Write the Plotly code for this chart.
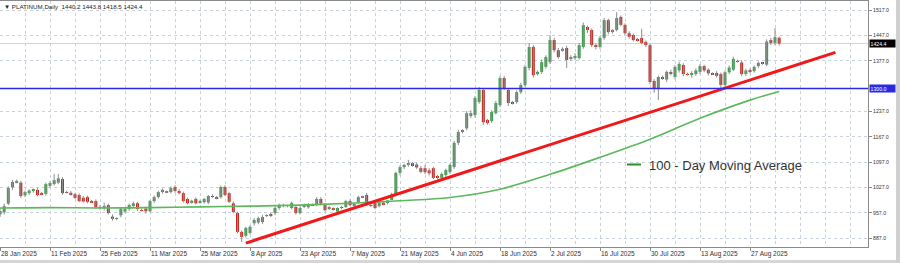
import pandas as pd
import plotly.graph_objects as go

# ---------------- data ----------------
opens = [952, 958, 982, 1027, 1041, 1040, 1005, 1011, 1018, 1020,
         1011, 1009, 1031, 1036, 1040, 1050, 1014, 1012, 1008, 1006,
         998, 1000, 988, 989, 972, 970, 978, 946, 940, 950,
         960, 967, 978, 983, 964, 968, 961, 989, 1000, 1014,
         1014, 1014, 1028, 1017, 1011, 995, 985, 995, 986, 986,
         985, 1003, 1000, 1000, 1028, 1011, 983, 956, 904, 893,
         901, 928, 930, 931, 948, 952, 956, 970, 977, 975,
         970, 973, 956, 975, 972, 980, 978, 995, 978, 968,
         968, 960, 972, 973, 989, 978, 986, 1000, 1006, 978,
         984, 975, 985, 986, 992, 1006, 1067, 1083, 1089, 1094,
         1090, 1080, 1080, 1074, 1080, 1058, 1053, 1061, 1069, 1083,
         1150, 1180, 1190, 1224, 1227, 1263, 1296, 1213, 1210, 1232,
         1254, 1329, 1296, 1262, 1263, 1290, 1310, 1357, 1415, 1340,
         1346, 1360, 1373, 1434, 1406, 1404, 1412, 1382, 1384, 1384,
         1415, 1470, 1462, 1420, 1415, 1440, 1489, 1456, 1462, 1498,
         1476, 1453, 1448, 1436, 1440, 1429, 1420, 1321, 1301, 1330,
         1325, 1344, 1332, 1350, 1365, 1340, 1338, 1340, 1346, 1362,
         1352, 1342, 1343, 1340, 1310, 1345, 1352, 1376, 1372, 1340,
         1350, 1348, 1362, 1371, 1366, 1434, 1426, 1440.2]
highs = [970, 982, 1030, 1048, 1048, 1045, 1018, 1022, 1024, 1025,
         1014, 1040, 1044, 1064, 1064, 1055, 1018, 1017, 1012, 1010,
         1003, 1004, 992, 994, 978, 985, 982, 952, 944, 970,
         970, 982, 988, 987, 968, 974, 992, 1004, 1018, 1024,
         1018, 1030, 1033, 1022, 1015, 999, 993, 999, 993, 998,
         1006, 1008, 1003, 1032, 1033, 1014, 988, 960, 908, 918,
         922, 942, 946, 950, 953, 957, 974, 982, 982, 979,
         988, 978, 974, 982, 984, 982, 1000, 1000, 982, 975,
         972, 972, 976, 993, 994, 985, 1004, 1004, 1012, 983,
         988, 988, 990, 991, 1012, 1070, 1088, 1092, 1103, 1097,
         1096, 1086, 1089, 1080, 1084, 1061, 1068, 1079, 1093, 1155,
         1186, 1188, 1238, 1240, 1280, 1304, 1300, 1216, 1240, 1266,
         1335, 1335, 1300, 1266, 1295, 1316, 1366, 1426, 1420, 1350,
         1380, 1392, 1448, 1440, 1412, 1414, 1418, 1392, 1398, 1426,
         1482, 1474, 1466, 1425, 1446, 1495, 1493, 1464, 1511, 1502,
         1480, 1458, 1452, 1440, 1465, 1433, 1424, 1326, 1336, 1336,
         1350, 1352, 1365, 1374, 1370, 1344, 1348, 1356, 1368, 1366,
         1356, 1345, 1348, 1344, 1350, 1364, 1388, 1380, 1378, 1355,
         1356, 1364, 1375, 1374, 1436, 1440, 1467, 1443.8]
lows = [945, 952, 978, 1020, 1038, 998, 1000, 1006, 1012, 1002,
        1005, 1004, 1026, 1032, 1036, 1006, 1010, 1004, 995, 986,
        985, 983, 984, 968, 965, 963, 952, 935, 936, 944,
        956, 962, 972, 962, 960, 955, 958, 984, 996, 1010,
        1011, 1010, 1012, 1007, 985, 980, 982, 980, 982, 982,
        981, 998, 994, 996, 1002, 984, 955, 900, 876, 888,
        896, 922, 925, 926, 945, 945, 950, 965, 972, 972,
        966, 952, 952, 970, 968, 975, 975, 978, 960, 964,
        963, 958, 966, 970, 975, 974, 982, 997, 975, 972,
        966, 972, 977, 980, 992, 1002, 1060, 1078, 1084, 1084,
        1078, 1066, 1064, 1060, 1050, 1050, 1048, 1056, 1064, 1078,
        1144, 1176, 1185, 1218, 1220, 1258, 1200, 1200, 1205, 1228,
        1248, 1296, 1252, 1256, 1258, 1285, 1305, 1350, 1330, 1336,
        1340, 1355, 1368, 1400, 1382, 1402, 1357, 1376, 1378, 1380,
        1410, 1454, 1415, 1408, 1410, 1435, 1450, 1452, 1458, 1472,
        1448, 1438, 1430, 1430, 1422, 1415, 1312, 1288, 1268, 1324,
        1318, 1336, 1326, 1344, 1334, 1336, 1330, 1335, 1340, 1345,
        1336, 1338, 1330, 1300, 1305, 1340, 1348, 1372, 1334, 1335,
        1342, 1344, 1356, 1366, 1362, 1420, 1420, 1418.5]
closes = [962, 975, 1025, 1042, 1045, 1003, 1014, 1018, 1020, 1006,
          1007, 1036, 1039, 1047, 1052, 1011, 1012, 1008, 998, 989,
          988, 987, 986, 972, 970, 974, 956, 940, 942, 967,
          967, 978, 983, 967, 963, 961, 989, 1000, 1014, 1020,
          1016, 1025, 1017, 1011, 989, 983, 990, 983, 988, 995,
          1003, 1002, 997, 1028, 1006, 987, 959, 904, 890, 915,
          918, 937, 942, 945, 950, 950, 970, 978, 976, 975,
          984, 956, 970, 978, 979, 976, 995, 982, 964, 970,
          967, 970, 971, 989, 978, 981, 1000, 1001, 978, 976,
          970, 985, 980, 991, 1008, 1067, 1083, 1089, 1092, 1086,
          1082, 1070, 1069, 1066, 1053, 1053, 1064, 1075, 1089, 1150,
          1180, 1184, 1232, 1232, 1274, 1296, 1207, 1205, 1235, 1260,
          1329, 1301, 1260, 1258, 1290, 1310, 1360, 1415, 1337, 1346,
          1373, 1387, 1434, 1406, 1387, 1410, 1379, 1385, 1390, 1420,
          1475, 1462, 1420, 1415, 1440, 1489, 1456, 1462, 1495, 1476,
          1453, 1443, 1434, 1432, 1426, 1420, 1318, 1301, 1332, 1328,
          1346, 1342, 1360, 1368, 1340, 1338, 1341, 1350, 1362, 1350,
          1342, 1340, 1335, 1310, 1345, 1358, 1382, 1374, 1340, 1350,
          1348, 1360, 1371, 1369, 1430, 1426, 1442, 1424.4]

tick_dates = ["2025-01-28", "2025-02-11", "2025-02-25", "2025-03-11", "2025-03-25",
              "2025-04-08", "2025-04-23", "2025-05-07", "2025-05-21", "2025-06-04",
              "2025-06-18", "2025-07-02", "2025-07-16", "2025-07-30", "2025-08-13",
              "2025-08-27"]
price_ticks = [887, 957, 1027, 1097, 1167, 1237, 1377, 1447, 1517]

ma_dates = tick_dates + ["2025-09-04"]
ma_values = [970, 971, 970, 971, 973, 975, 978, 983, 990, 999,
             1022, 1063, 1110, 1160, 1218, 1268, 1292]

trend_bar = [59, 200.5]
trend_price = [873, 1400]

support_level = 1300.0
symbol = "PLATINUM,Daily"
legend_label = "100 - Day Moving Average"

# ---------------- trading days (broker has Sunday bars) ----------------
all_days = pd.date_range("2025-01-28", "2025-09-04", freq="D")
dates = [d for d in all_days if d.weekday() != 5 and d != pd.Timestamp("2025-04-18")]
n = len(dates)
assert n == len(opens) == len(highs) == len(lows) == len(closes), (n, len(opens), len(highs), len(lows), len(closes))
pos = {d.strftime("%Y-%m-%d"): i for i, d in enumerate(dates)}
bars = list(range(n))

tickvals = [pos[d] for d in tick_dates]
ticktext = [f"{pd.Timestamp(d).day} {pd.Timestamp(d).strftime('%b %Y')}" for d in tick_dates]
ma_x = [pos[d] for d in ma_dates]

# ---------------- figure ----------------
W, H = 900, 263
ML, MR, MT, MB = 0, 32, 1, 16
PW, PH = W - ML - MR, H - MT - MB
BAR_PX = 50 / 12
XMAX = PW / BAR_PX
Y_TOP = 1541.9
Y_BOT = 862.2

GREEN = "#3f9a4f"
RED = "#c42a24"
WICK = "#8e8e8e"

wick_x, wick_y = [], []
for i in bars:
    wick_x += [i, i, None]
    wick_y += [lows[i], highs[i], None]

fig = go.Figure()
fig.add_trace(go.Scatter(x=wick_x, y=wick_y, mode="lines",
                         line=dict(color=WICK, width=1), hoverinfo="skip"))
fig.add_trace(go.Bar(
    x=bars,
    base=[min(o, c) for o, c in zip(opens, closes)],
    y=[abs(c - o) for o, c in zip(opens, closes)],
    width=0.72,
    marker=dict(color=[GREEN if c >= o else RED for o, c in zip(opens, closes)],
                line=dict(width=0)),
))
fig.add_trace(go.Scatter(x=ma_x, y=ma_values, mode="lines",
                         line=dict(color="#5cb85c", width=1.6, shape="spline"),
                         name=legend_label))
fig.add_trace(go.Scatter(x=trend_bar, y=trend_price, mode="lines",
                         line=dict(color="#f01818", width=3)))

grid = "#c9d1dc"
fig.update_layout(
    width=W, height=H,
    margin=dict(l=ML, r=MR, t=MT, b=MB),
    paper_bgcolor="white", plot_bgcolor="white",
    showlegend=False,
    font=dict(family="Liberation Sans, Arial, sans-serif", color="#333"),
    xaxis=dict(
        range=[0, XMAX], tickmode="array", tickvals=tickvals, ticktext=ticktext,
        tickfont=dict(size=6.5, color="#333"), ticks="outside", ticklen=3,
        tickcolor="#8a8a8a", ticklabelposition="outside right",
        showgrid=True, gridcolor=grid, griddash="dot", gridwidth=1,
        minor=dict(tickmode="linear", tick0=0, dtick=6, showgrid=True,
                   gridcolor=grid, griddash="dot", gridwidth=1, ticks=""),
        showline=True, linecolor="#8a8a8a", linewidth=1, mirror=True,
        zeroline=False, fixedrange=True,
    ),
    yaxis=dict(
        side="right", range=[Y_BOT, Y_TOP], tickmode="array", tickvals=price_ticks,
        ticktext=[f"{v:.1f}" for v in price_ticks],
        tickfont=dict(size=5.2, color="#333"), ticks="outside", ticklen=3,
        tickcolor="#8a8a8a",
        showgrid=True, gridcolor=grid, griddash="dot", gridwidth=1,
        showline=True, linecolor="#8a8a8a", linewidth=1, mirror=True,
        zeroline=False, fixedrange=True,
    ),
)

last_close = closes[-1]
shapes = [
    dict(type="line", xref="paper", x0=0, x1=1, yref="y", y0=last_close, y1=last_close,
         line=dict(color="#cdd4e2", width=1), layer="below"),
    dict(type="line", xref="paper", x0=0, x1=1, yref="y", y0=support_level, y1=support_level,
         line=dict(color="#2a2ae6", width=1.5), layer="above"),
    # legend key
    dict(type="line", xref="paper", yref="paper",
         x0=627 / PW, x1=641 / PW, y0=(MT + PH - 164.5) / PH, y1=(MT + PH - 164.5) / PH,
         line=dict(color="#2a8f2a", width=2)),
    # window chrome
    dict(type="rect", xref="paper", yref="paper", x0=-0.01, x1=1.05,
         y0=-(260 - MT - PH) / PH, y1=-(270 - MT - PH) / PH,
         fillcolor="#d6d6d6", line=dict(width=0), layer="above"),
    dict(type="rect", xref="paper", yref="paper", x0=896 / PW, x1=905 / PW,
         y0=-0.1, y1=1.05, fillcolor="#d0d0d0", line=dict(width=0), layer="above"),
]
fig.update_layout(shapes=shapes)

annotations = [
    dict(xref="paper", yref="paper", x=2 / PW, y=(MT + PH - 6) / PH,
         xanchor="left", yanchor="middle", showarrow=False,
         text=f"▼ {symbol}  {opens[-1]:.1f} {highs[-1]:.1f} {lows[-1]:.1f} {closes[-1]:.1f}",
         font=dict(size=6.2, color="#222")),
    dict(xref="paper", yref="paper", x=647 / PW, y=(MT + PH - 166) / PH,
         xanchor="left", yanchor="middle", showarrow=False,
         text=legend_label, font=dict(size=13, color="#333")),
    dict(xref="paper", yref="y", x=1, y=last_close, xanchor="left", yanchor="middle",
         xshift=1, showarrow=False, text=f"{last_close:.1f}", bgcolor="#000000",
         font=dict(size=5.2, color="white"), width=24, height=6, borderpad=0.5, align="left"),
    dict(xref="paper", yref="y", x=1, y=support_level, xanchor="left", yanchor="middle",
         xshift=1, showarrow=False, text=f"{support_level:.1f}", bgcolor="#2a2ae6",
         font=dict(size=5.2, color="white"), width=24, height=6, borderpad=0.5, align="left"),
]
fig.update_layout(annotations=annotations)

fig.write_html("out.html")
